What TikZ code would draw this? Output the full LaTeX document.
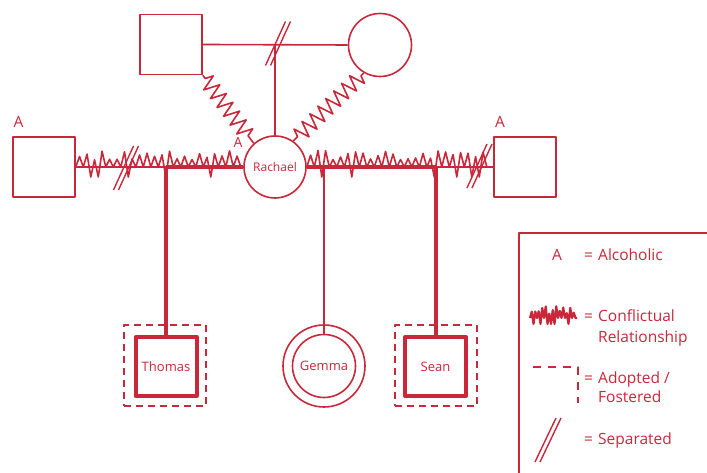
\documentclass[tikz,border=0pt]{standalone}
\usepackage{fontspec}
\setmainfont{Open Sans}
\usetikzlibrary{decorations.pathmorphing,calc}
\definecolor{gred}{HTML}{C8283A}
\pgfmathsetseed{12}
\pgfdeclaredecoration{conflict}{init}{
  \state{init}[width=7.5pt]{
    \pgfmathsetmacro\hh{7+10*rnd}
    \pgfmathsetmacro\dd{(rnd>0.85)*10}
    \pgfpathlineto{\pgfpoint{3.75pt}{\hh pt}}
    \pgfpathlineto{\pgfpoint{7.5pt}{-\dd pt}}
  }
  \state{final}{\pgfpathlineto{\pgfpointdecoratedpathlast}}
}
\pgfdeclaredecoration{conflictsmall}{init}{
  \state{init}[width=3.5pt]{
    \pgfmathsetmacro\hh{4+8*rnd}
    \pgfmathsetmacro\dd{(rnd>0.7)*6}
    \pgfpathlineto{\pgfpoint{1.75pt}{\hh pt}}
    \pgfpathlineto{\pgfpoint{3.5pt}{-\dd pt}}
  }
  \state{final}{\pgfpathlineto{\pgfpointdecoratedpathlast}}
}
\begin{document}
\begin{tikzpicture}[x=1pt,y=1pt, line join=round,
  thinline/.style={draw=gred, line width=1.6pt},
  thickline/.style={draw=gred, line width=4pt},
  male/.style={draw=gred, line width=1.6pt, minimum width=62pt, minimum height=60pt, inner sep=0},
  female/.style={circle, draw=gred, line width=1.6pt, minimum size=62pt, inner sep=0, text=gred},
  child/.style={draw=gred, line width=4pt, minimum width=61pt, minimum height=59pt, inner sep=0, text=gred, font=\fontsize{13}{15}\selectfont},
  adoptbox/.style={draw=gred, line width=1.6pt, dash pattern=on 7pt off 5pt, minimum width=82pt, minimum height=81pt, inner sep=0},
  conflictline/.style={draw=gred, line width=1.6pt, decorate, decoration={conflict}},
  springline/.style={draw=gred, line width=1.6pt, decorate, decoration={zigzag, segment length=11pt, amplitude=8pt, pre length=4pt, post length=4pt}},
  sepmark/.pic={\draw[gred, line width=1.4pt] (-12,-22) -- (8,22) (-7,-22) -- (13,22);},
  lbl/.style={font=\fontsize{15.5}{18}\selectfont, text=gred, inner sep=0},
]
\path[use as bounding box, fill=white] (0,0) rectangle (707,473);
\clip (0,0) rectangle (707,473);

% nodes
\node[male] (gf) at (171,428.5) {};
\node[female, minimum size=63pt] (gm) at (380,428) {};
\node[female, font=\fontsize{12}{15}\selectfont] (r) at (275,306) {Rachael};
\node[male] (lh) at (44,306) {};
\node[male] (rh) at (525,306) {};
\node[child] (thomas) at (166,106.5) {Thomas};
\node[adoptbox] (tbox) at (165,107.5) {};
\node[female, minimum size=82pt] (gout) at (324,107) {};
\node[female, minimum size=63pt, font=\fontsize{13}{15}\selectfont] (gemma) at (324,107) {Gemma};
\node[child] (sean) at (435.5,106.5) {Sean};
\node[adoptbox] (sbox) at (436,107.5) {};

% grandparents
\draw[thinline] (gf.east) -- (gm.west);
\draw[thinline] (r.north) -- (r.north |- gf.east);
\pic at (277.5,429.5) {sepmark};
\draw[springline] (gf.south east) -- (r.132);
\draw[springline] (gm.240) -- (r.55);

% partner lines
\draw[thinline] (lh.east) -- (r.west);
\draw[thinline] (r.east) -- (rh.west);
\draw[thickline] (thomas.north |- r.west) -- (r.west);
\draw[thickline] (r.east) -- (sean.north |- r.east);
\draw[conflictline] (lh.east) -- (r.west);
\draw[conflictline] (r.east) -- (rh.west);
\pic at (125.5,305) {sepmark};
\pic at (479,307) {sepmark};

% children
\draw[thickline] (thomas.north) -- (thomas.north |- r.west);
\draw[thickline] (sean.north) -- (sean.north |- r.east);
\draw[thinline] (gemma.north) -- (gemma.north |- r.east);

% alcoholic labels
\node[lbl] (al) at (18.5,351) {A};
\node[lbl] (ar) at (500,351) {A};
\node[lbl, font=\fontsize{14}{16}\selectfont] (ara) at (238,331) {A};

% legend
\draw[gred, line width=1.6pt] (519,240) rectangle (740,-20);
\node[lbl, anchor=base] (kA) at (557,212) {A};
\node[lbl, anchor=base west] (e1) at (584,212) {=};
\node[lbl, anchor=base west] (t1) at (598,212) {Alcoholic};
\coordinate (c1) at (530,155);
\coordinate (c2) at (577,155);
\draw[draw=gred, line width=2.2pt, decorate, decoration={conflictsmall}] (c1) -- (c2);
\node[lbl, anchor=base west] (e2) at (584,151) {=};
\node[lbl, anchor=base west] (t2) at (598,151) {Conflictual};
\node[lbl, anchor=base west] (t2b) at (598,130) {Relationship};
\coordinate (d1) at (533,106);
\coordinate (d2) at (578,106);
\coordinate (d3) at (578,70);
\draw[gred, line width=1.6pt, dash pattern=on 8pt off 7pt] (d1) -- (d2) -- (d3);
\node[lbl, anchor=base west] (e3) at (584,89) {=};
\node[lbl, anchor=base west] (t3) at (598,89) {Adopted /};
\node[lbl, anchor=base west] (t3b) at (598,70) {Fostered};
\draw[gred, line width=1.4pt] (535,11) -- (556,55) (540,11) -- (561,55);
\node[lbl, anchor=base west] (e4) at (584,28) {=};
\node[lbl, anchor=base west] (t4) at (598,28) {Separated};
\end{tikzpicture}
\end{document}
